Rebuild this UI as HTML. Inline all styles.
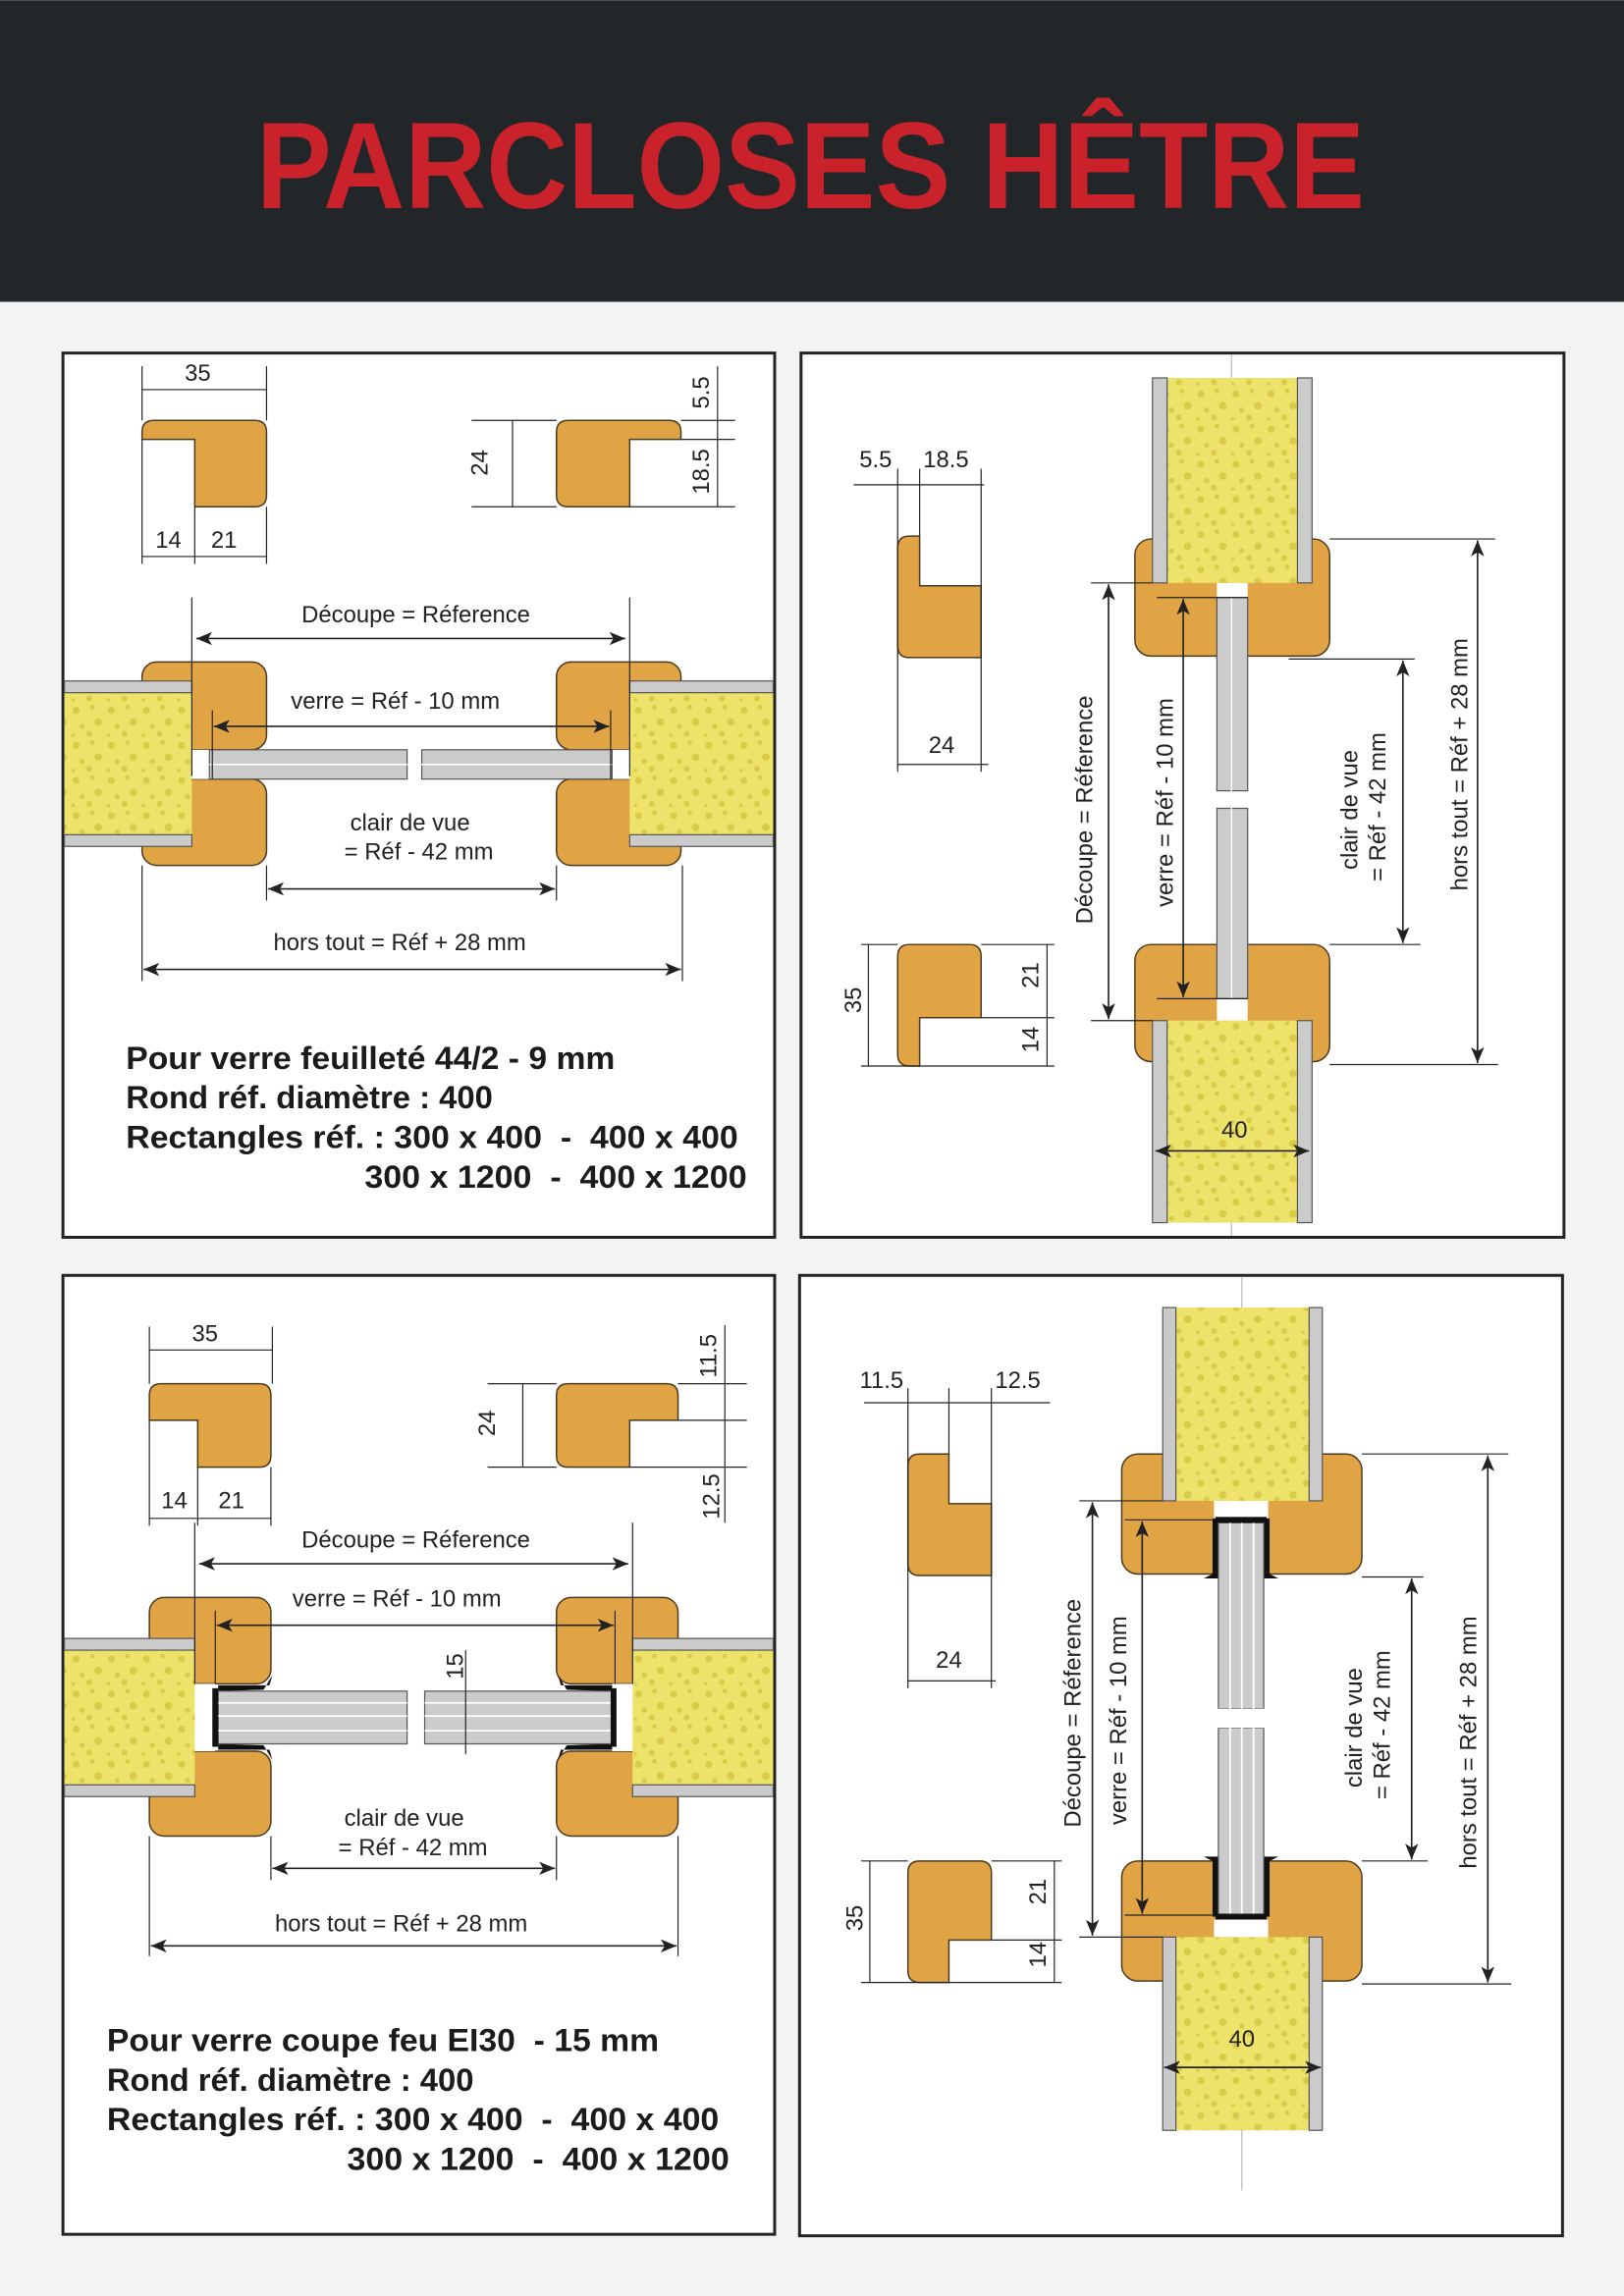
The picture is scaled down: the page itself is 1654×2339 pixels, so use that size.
<!DOCTYPE html>
<html><head><meta charset="utf-8"><style>
html,body{margin:0;padding:0;background:#f3f3f3}
svg{display:block}
text{font-family:"Liberation Sans",Arial,sans-serif;fill:#222}
.l{font-size:16px}
.b{font-size:22px;font-weight:bold;fill:#1b1b1b;white-space:pre}
.w{fill:#E1A445;stroke:#4a3a20;stroke-width:1}
.g{fill:#cbcbcb;stroke:#555;stroke-width:.8}
.f{fill:url(#foam)}
.d{stroke:#222;stroke-width:1.1;fill:none}
.e{stroke:#222;stroke-width:.8;fill:none}
.c{stroke:#bbb;stroke-width:.8}
</style></head><body>
<svg width="1654" height="2339" viewBox="0 0 1109 1568" xmlns="http://www.w3.org/2000/svg">
<defs>
<pattern id="foam" width="24" height="24" patternUnits="userSpaceOnUse">
<rect width="24" height="24" fill="#eee36a"/>
<circle cx="4" cy="5" r="2.4" fill="#d8cb47"/><circle cx="15" cy="3" r="1.6" fill="#d8cb47"/>
<circle cx="19" cy="13" r="2.6" fill="#d8cb47"/><circle cx="8" cy="16" r="1.8" fill="#d8cb47"/>
<circle cx="13" cy="21" r="2" fill="#d8cb47"/><circle cx="2" cy="22" r="1.2" fill="#d8cb47"/>
</pattern>
<marker id="a" viewBox="0 0 12 10" refX="12" refY="5" markerWidth="14" markerHeight="9" markerUnits="userSpaceOnUse" orient="auto-start-reverse"><path d="M0,0 L12,5 L0,10 L3,5z" fill="#222"/></marker>
</defs>
<rect width="1109" height="1568" fill="#f3f3f3"/>
<rect width="1109" height="206" fill="#232628"/>
<text x="175" y="142" font-size="84" font-weight="bold" style="fill:#c9222a" textLength="757" lengthAdjust="spacingAndGlyphs">PARCLOSES HÊTRE</text>

<rect x="43" y="241" width="486" height="604" fill="#fff" stroke="#222" stroke-width="2"/>
<rect x="547" y="241" width="521" height="604" fill="#fff" stroke="#222" stroke-width="2"/>
<rect x="43" y="871" width="486" height="655" fill="#fff" stroke="#222" stroke-width="2"/>
<rect x="546" y="871" width="521" height="656" fill="#fff" stroke="#222" stroke-width="2"/>

<!-- PANEL 1 -->
<path class="w" d="M97,295 q0,-8 8,-8 L174,287 q8,0 8,8 L182,338 q0,8 -8,8 L133,346 L133,300 L97,300 Z"/>
<line class="e" x1="97" y1="250" x2="97" y2="287"/><line class="e" x1="182" y1="250" x2="182" y2="287"/>
<line class="e" x1="97" y1="266" x2="182" y2="266"/>
<text class="l" x="135" y="260" text-anchor="middle">35</text>
<line class="e" x1="97" y1="300" x2="97" y2="385"/><line class="e" x1="133" y1="346" x2="133" y2="385"/><line class="e" x1="182" y1="346" x2="182" y2="385"/>
<line class="e" x1="97" y1="380" x2="182" y2="380"/>
<text class="l" x="115" y="374" text-anchor="middle">14</text><text class="l" x="153" y="374" text-anchor="middle">21</text>

<path class="w" d="M380,295 q0,-8 8,-8 L457,287 q8,0 8,8 L465,300 L430,300 L430,346 L388,346 q-8,0 -8,-8 Z"/>
<line class="e" x1="322" y1="287" x2="380" y2="287"/><line class="e" x1="322" y1="346" x2="380" y2="346"/>
<line class="e" x1="350" y1="287" x2="350" y2="346"/>
<text class="l" transform="rotate(-90 333 316)" x="333" y="316" text-anchor="middle">24</text>
<line class="e" x1="465" y1="287" x2="502" y2="287"/><line class="e" x1="465" y1="300" x2="502" y2="300"/><line class="e" x1="430" y1="346" x2="502" y2="346"/>
<line class="e" x1="490" y1="250" x2="490" y2="346"/>
<text class="l" transform="rotate(-90 484 268)" x="484" y="268" text-anchor="middle">5.5</text>
<text class="l" transform="rotate(-90 484 322)" x="484" y="322" text-anchor="middle">18.5</text>

<rect class="w" x="97" y="452" width="85" height="60" rx="10"/>
<rect class="w" x="97" y="532" width="85" height="59" rx="10"/>
<rect class="w" x="380" y="452" width="85" height="60" rx="10"/>
<rect class="w" x="380" y="532" width="85" height="59" rx="10"/>
<rect x="131" y="512" width="12" height="20" fill="#fff"/><rect x="418" y="512" width="12" height="20" fill="#fff"/>
<rect class="f" x="44" y="465" width="87" height="113"/>
<rect class="g" x="44" y="465" width="87" height="8"/><rect class="g" x="44" y="570" width="87" height="8"/>
<rect class="f" x="430" y="465" width="98" height="113"/>
<rect class="g" x="430" y="465" width="98" height="8"/><rect class="g" x="430" y="570" width="98" height="8"/>
<rect class="g" x="143" y="512" width="135" height="20"/><rect class="g" x="288" y="512" width="130" height="20"/>
<line x1="143" y1="522" x2="418" y2="522" stroke="#fff" stroke-width="1"/>
<line class="e" x1="131" y1="408" x2="131" y2="530"/><line class="e" x1="430" y1="408" x2="430" y2="530"/>
<line class="d" x1="134" y1="436" x2="427" y2="436" marker-start="url(#a)" marker-end="url(#a)"/>
<text class="l" x="284" y="425" text-anchor="middle">Découpe = Réference</text>
<line class="e" x1="145" y1="485" x2="145" y2="532"/><line class="e" x1="417" y1="485" x2="417" y2="532"/>
<line class="d" x1="146" y1="496" x2="416" y2="496" marker-start="url(#a)" marker-end="url(#a)"/>
<text class="l" x="270" y="484" text-anchor="middle">verre = Réf - 10 mm</text>
<line class="e" x1="182" y1="591" x2="182" y2="615"/><line class="e" x1="380" y1="591" x2="380" y2="615"/>
<line class="d" x1="183" y1="607" x2="379" y2="607" marker-start="url(#a)" marker-end="url(#a)"/>
<text class="l" x="280" y="567" text-anchor="middle">clair de vue</text>
<text class="l" x="286" y="587" text-anchor="middle">= Réf - 42 mm</text>
<line class="e" x1="97" y1="591" x2="97" y2="670"/><line class="e" x1="466" y1="591" x2="466" y2="670"/>
<line class="d" x1="98" y1="662" x2="465" y2="662" marker-start="url(#a)" marker-end="url(#a)"/>
<text class="l" x="273" y="649" text-anchor="middle">hors tout = Réf + 28 mm</text>
<text class="b" x="86" y="730" textLength="334" lengthAdjust="spacingAndGlyphs">Pour verre feuilleté 44/2 - 9 mm</text>
<text class="b" x="86" y="757">Rond réf. diamètre : 400</text>
<text class="b" x="86" y="784" textLength="418" lengthAdjust="spacingAndGlyphs">Rectangles réf. : 300 x 400  -  400 x 400</text>
<text class="b" x="249" y="811" textLength="261" lengthAdjust="spacingAndGlyphs">300 x 1200  -  400 x 1200</text>

<!-- PANEL 2 -->
<path class="w" d="M613,374 q0,-8 8,-8 L628,366 L628,400 L670,400 L670,449 L621,449 q-8,0 -8,-8 Z"/>
<line class="e" x1="583" y1="331" x2="672" y2="331"/>
<line class="e" x1="613" y1="320" x2="613" y2="527"/><line class="e" x1="628" y1="320" x2="628" y2="366"/><line class="e" x1="670" y1="320" x2="670" y2="527"/>
<line class="e" x1="613" y1="522" x2="675" y2="522"/>
<text class="l" x="598" y="319" text-anchor="middle">5.5</text><text class="l" x="646" y="319" text-anchor="middle">18.5</text>
<text class="l" x="643" y="514" text-anchor="middle">24</text>
<path class="w" d="M613,653 q0,-8 8,-8 L662,645 q8,0 8,8 L670,695 L628,695 L628,728 L621,728 q-8,0 -8,-8 Z"/>
<line class="e" x1="588" y1="645" x2="613" y2="645"/><line class="e" x1="588" y1="728" x2="720" y2="728"/>
<line class="e" x1="593" y1="645" x2="593" y2="728"/>
<line class="e" x1="670" y1="645" x2="720" y2="645"/><line class="e" x1="670" y1="695" x2="720" y2="695"/>
<line class="e" x1="715" y1="645" x2="715" y2="728"/>
<text class="l" transform="rotate(-90 588 683)" x="588" y="683" text-anchor="middle">35</text>
<text class="l" transform="rotate(-90 709 666)" x="709" y="666" text-anchor="middle">21</text>
<text class="l" transform="rotate(-90 709 710)" x="709" y="710" text-anchor="middle">14</text>

<line class="c" x1="841" y1="242" x2="841" y2="844"/>
<rect class="w" x="775" y="368" width="133" height="80" rx="11"/>
<rect class="w" x="775" y="645" width="133" height="80" rx="11"/>
<rect x="831" y="398" width="21" height="10" fill="#fff"/><rect x="831" y="682" width="21" height="15" fill="#fff"/>
<rect class="f" x="787" y="258" width="109" height="140"/>
<rect class="g" x="787" y="258" width="10" height="140"/><rect class="g" x="886" y="258" width="10" height="140"/>
<rect class="f" x="787" y="697" width="109" height="138"/>
<rect class="g" x="787" y="697" width="10" height="138"/><rect class="g" x="886" y="697" width="10" height="138"/>
<rect class="g" x="831" y="408" width="21" height="132"/><rect class="g" x="831" y="552" width="21" height="130"/>
<line x1="841" y1="408" x2="841" y2="682" stroke="#fff"/>
<line class="e" x1="745" y1="398" x2="787" y2="398"/><line class="e" x1="745" y1="697" x2="787" y2="697"/>
<line class="d" x1="757" y1="399" x2="757" y2="696" marker-start="url(#a)" marker-end="url(#a)"/>
<text class="l" transform="rotate(-90 746 553)" x="746" y="553" text-anchor="middle">Découpe = Réference</text>
<line class="e" x1="790" y1="408" x2="852" y2="408"/><line class="e" x1="790" y1="682" x2="852" y2="682"/>
<line class="d" x1="808" y1="409" x2="808" y2="681" marker-start="url(#a)" marker-end="url(#a)"/>
<text class="l" transform="rotate(-90 801 548)" x="801" y="548" text-anchor="middle">verre = Réf - 10 mm</text>
<line class="e" x1="880" y1="450" x2="966" y2="450"/><line class="e" x1="908" y1="645" x2="970" y2="645"/>
<line class="d" x1="958" y1="451" x2="958" y2="644" marker-start="url(#a)" marker-end="url(#a)"/>
<text class="l" transform="rotate(-90 927 553)" x="927" y="553" text-anchor="middle">clair de vue</text>
<text class="l" transform="rotate(-90 946 551)" x="946" y="551" text-anchor="middle">= Réf - 42 mm</text>
<line class="e" x1="908" y1="368" x2="1021" y2="368"/><line class="e" x1="908" y1="727" x2="1023" y2="727"/>
<line class="d" x1="1009" y1="369" x2="1009" y2="726" marker-start="url(#a)" marker-end="url(#a)"/>
<text class="l" transform="rotate(-90 1002 522)" x="1002" y="522" text-anchor="middle">hors tout = Réf + 28 mm</text>
<line class="d" x1="789" y1="786" x2="894" y2="786" marker-start="url(#a)" marker-end="url(#a)"/>
<text class="l" x="843" y="777" text-anchor="middle">40</text>

<!-- PANEL 3 -->
<path class="w" d="M102,953 q0,-8 8,-8 L177,945 q8,0 8,8 L185,994 q0,8 -8,8 L135,1002 L135,970 L102,970 Z"/>
<line class="e" x1="102" y1="906" x2="102" y2="945"/><line class="e" x1="186" y1="906" x2="186" y2="945"/>
<line class="e" x1="102" y1="922" x2="186" y2="922"/>
<text class="l" x="140" y="916" text-anchor="middle">35</text>
<line class="e" x1="102" y1="970" x2="102" y2="1042"/><line class="e" x1="135" y1="1002" x2="135" y2="1042"/><line class="e" x1="185" y1="1002" x2="185" y2="1042"/>
<line class="e" x1="102" y1="1037" x2="185" y2="1037"/>
<text class="l" x="119" y="1030" text-anchor="middle">14</text><text class="l" x="158" y="1030" text-anchor="middle">21</text>
<path class="w" d="M380,953 q0,-8 8,-8 L455,945 q8,0 8,8 L463,970 L430,970 L430,1002 L388,1002 q-8,0 -8,-8 Z"/>
<line class="e" x1="333" y1="945" x2="380" y2="945"/><line class="e" x1="333" y1="1002" x2="380" y2="1002"/>
<line class="e" x1="357" y1="945" x2="357" y2="1002"/>
<text class="l" transform="rotate(-90 338 972)" x="338" y="972" text-anchor="middle">24</text>
<line class="e" x1="463" y1="945" x2="510" y2="945"/><line class="e" x1="463" y1="970" x2="510" y2="970"/><line class="e" x1="430" y1="1002" x2="510" y2="1002"/>
<line class="e" x1="495" y1="905" x2="495" y2="1040"/>
<text class="l" transform="rotate(-90 489 926)" x="489" y="926" text-anchor="middle">11.5</text>
<text class="l" transform="rotate(-90 491 1022)" x="491" y="1022" text-anchor="middle">12.5</text>

<rect class="w" x="102" y="1091" width="83" height="59" rx="10"/>
<rect class="w" x="102" y="1196" width="83" height="58" rx="10"/>
<rect class="w" x="380" y="1091" width="83" height="59" rx="10"/>
<rect class="w" x="380" y="1196" width="83" height="58" rx="10"/>
<rect x="133" y="1150" width="14" height="46" fill="#fff"/><rect x="418" y="1150" width="14" height="46" fill="#fff"/>
<rect class="f" x="44" y="1119" width="89" height="108"/>
<rect class="g" x="44" y="1119" width="89" height="8"/><rect class="g" x="44" y="1219" width="89" height="8"/>
<rect class="f" x="432" y="1119" width="96" height="108"/>
<rect class="g" x="432" y="1119" width="96" height="8"/><rect class="g" x="432" y="1219" width="96" height="8"/>
<path d="M149,1151 L184,1151 L186,1144 L180,1154 L149,1155Z M149,1195 L184,1195 L186,1202 L180,1192 L149,1191Z" fill="#111"/>
<path d="M418,1151 L383,1151 L381,1144 L387,1154 L418,1155Z M418,1195 L383,1195 L381,1202 L387,1192 L418,1191Z" fill="#111"/>
<rect class="g" x="149" y="1155" width="129" height="36"/><rect class="g" x="290" y="1155" width="128" height="36"/>
<g stroke="#fff" stroke-width="1.2"><line x1="149" y1="1163" x2="278" y2="1163"/><line x1="149" y1="1172" x2="278" y2="1172"/><line x1="149" y1="1182" x2="278" y2="1182"/>
<line x1="290" y1="1163" x2="418" y2="1163"/><line x1="290" y1="1172" x2="418" y2="1172"/><line x1="290" y1="1182" x2="418" y2="1182"/></g>
<rect x="145" y="1153" width="4" height="40" fill="#111"/><rect x="417" y="1153" width="4" height="40" fill="#111"/>
<line class="e" x1="318" y1="1127" x2="318" y2="1198"/>
<text class="l" transform="rotate(-90 316 1138)" x="316" y="1138" text-anchor="middle">15</text>
<line class="e" x1="133" y1="1040" x2="133" y2="1150"/><line class="e" x1="432" y1="1040" x2="432" y2="1150"/>
<line class="d" x1="136" y1="1068" x2="429" y2="1068" marker-start="url(#a)" marker-end="url(#a)"/>
<text class="l" x="284" y="1057" text-anchor="middle">Découpe = Réference</text>
<line class="e" x1="147" y1="1100" x2="147" y2="1150"/><line class="e" x1="420" y1="1100" x2="420" y2="1150"/>
<line class="d" x1="148" y1="1110" x2="419" y2="1110" marker-start="url(#a)" marker-end="url(#a)"/>
<text class="l" x="271" y="1097" text-anchor="middle">verre = Réf - 10 mm</text>
<line class="e" x1="185" y1="1254" x2="185" y2="1284"/><line class="e" x1="380" y1="1254" x2="380" y2="1284"/>
<line class="d" x1="186" y1="1276" x2="379" y2="1276" marker-start="url(#a)" marker-end="url(#a)"/>
<text class="l" x="276" y="1247" text-anchor="middle">clair de vue</text>
<text class="l" x="282" y="1267" text-anchor="middle">= Réf - 42 mm</text>
<line class="e" x1="102" y1="1254" x2="102" y2="1336"/><line class="e" x1="463" y1="1254" x2="463" y2="1336"/>
<line class="d" x1="103" y1="1329" x2="462" y2="1329" marker-start="url(#a)" marker-end="url(#a)"/>
<text class="l" x="274" y="1319" text-anchor="middle">hors tout = Réf + 28 mm</text>
<text class="b" x="73" y="1401" textLength="377" lengthAdjust="spacingAndGlyphs">Pour verre coupe feu EI30  - 15 mm</text>
<text class="b" x="73" y="1428">Rond réf. diamètre : 400</text>
<text class="b" x="73" y="1455" textLength="418" lengthAdjust="spacingAndGlyphs">Rectangles réf. : 300 x 400  -  400 x 400</text>
<text class="b" x="237" y="1482" textLength="261" lengthAdjust="spacingAndGlyphs">300 x 1200  -  400 x 1200</text>

<!-- PANEL 4 -->
<path class="w" d="M620,1001 q0,-8 8,-8 L648,993 L648,1027 L677,1027 L677,1076 L628,1076 q-8,0 -8,-8 Z"/>
<line class="e" x1="590" y1="958" x2="717" y2="958"/>
<line class="e" x1="620" y1="948" x2="620" y2="1153"/><line class="e" x1="648" y1="948" x2="648" y2="993"/><line class="e" x1="677" y1="948" x2="677" y2="1153"/>
<line class="e" x1="620" y1="1148" x2="680" y2="1148"/>
<text class="l" x="602" y="948" text-anchor="middle">11.5</text><text class="l" x="695" y="948" text-anchor="middle">12.5</text>
<text class="l" x="648" y="1139" text-anchor="middle">24</text>
<path class="w" d="M620,1279 q0,-8 8,-8 L669,1271 q8,0 8,8 L677,1325 L648,1325 L648,1354 L628,1354 q-8,0 -8,-8 Z"/>
<line class="e" x1="588" y1="1271" x2="620" y2="1271"/><line class="e" x1="588" y1="1354" x2="725" y2="1354"/>
<line class="e" x1="594" y1="1271" x2="594" y2="1354"/>
<line class="e" x1="677" y1="1271" x2="725" y2="1271"/><line class="e" x1="677" y1="1325" x2="725" y2="1325"/>
<line class="e" x1="720" y1="1271" x2="720" y2="1354"/>
<text class="l" transform="rotate(-90 589 1310)" x="589" y="1310" text-anchor="middle">35</text>
<text class="l" transform="rotate(-90 714 1292)" x="714" y="1292" text-anchor="middle">21</text>
<text class="l" transform="rotate(-90 714 1335)" x="714" y="1335" text-anchor="middle">14</text>

<line class="c" x1="848" y1="872" x2="848" y2="1496"/>
<rect class="w" x="766" y="993" width="164" height="82" rx="11"/>
<rect class="w" x="766" y="1271" width="164" height="82" rx="11"/>
<rect x="829" y="1025" width="37" height="12" fill="#fff"/><rect x="829" y="1311" width="37" height="12" fill="#fff"/>
<rect class="f" x="794" y="893" width="109" height="132"/>
<rect class="g" x="794" y="893" width="9" height="132"/><rect class="g" x="894" y="893" width="9" height="132"/>
<rect class="f" x="794" y="1323" width="109" height="132"/>
<rect class="g" x="794" y="1323" width="9" height="132"/><rect class="g" x="894" y="1323" width="9" height="132"/>
<path d="M828,1037 L828,1075 L822,1078 L832,1078 L832,1037Z M867,1037 L867,1075 L873,1078 L863,1078 L863,1037Z M828,1309 L828,1271 L822,1268 L832,1268 L832,1309Z M867,1309 L867,1271 L873,1268 L863,1268 L863,1309Z" fill="#111"/>
<rect class="g" x="832" y="1040" width="31" height="127"/><rect class="g" x="832" y="1180" width="31" height="128"/>
<g stroke="#fff" stroke-width="1.2"><line x1="840" y1="1040" x2="840" y2="1308"/><line x1="848" y1="1040" x2="848" y2="1308"/><line x1="856" y1="1040" x2="856" y2="1308"/></g>
<rect x="830" y="1036" width="35" height="4" fill="#111"/><rect x="830" y="1307" width="35" height="4" fill="#111"/>
<rect x="829" y="1167" width="37" height="13" fill="#fff"/>
<line class="e" x1="737" y1="1025" x2="794" y2="1025"/><line class="e" x1="737" y1="1323" x2="794" y2="1323"/>
<line class="d" x1="746" y1="1026" x2="746" y2="1322" marker-start="url(#a)" marker-end="url(#a)"/>
<text class="l" transform="rotate(-90 738 1170)" x="738" y="1170" text-anchor="middle">Découpe = Réference</text>
<line class="e" x1="768" y1="1038" x2="829" y2="1038"/><line class="e" x1="768" y1="1308" x2="829" y2="1308"/>
<line class="d" x1="780" y1="1039" x2="780" y2="1307" marker-start="url(#a)" marker-end="url(#a)"/>
<text class="l" transform="rotate(-90 769 1175)" x="769" y="1175" text-anchor="middle">verre = Réf - 10 mm</text>
<line class="e" x1="930" y1="1077" x2="972" y2="1077"/><line class="e" x1="930" y1="1271" x2="975" y2="1271"/>
<line class="d" x1="964" y1="1078" x2="964" y2="1270" marker-start="url(#a)" marker-end="url(#a)"/>
<text class="l" transform="rotate(-90 930 1180)" x="930" y="1180" text-anchor="middle">clair de vue</text>
<text class="l" transform="rotate(-90 949 1178)" x="949" y="1178" text-anchor="middle">= Réf - 42 mm</text>
<line class="e" x1="930" y1="993" x2="1030" y2="993"/><line class="e" x1="930" y1="1355" x2="1032" y2="1355"/>
<line class="d" x1="1016" y1="994" x2="1016" y2="1354" marker-start="url(#a)" marker-end="url(#a)"/>
<text class="l" transform="rotate(-90 1008 1190)" x="1008" y="1190" text-anchor="middle">hors tout = Réf + 28 mm</text>
<line class="d" x1="795" y1="1412" x2="902" y2="1412" marker-start="url(#a)" marker-end="url(#a)"/>
<text class="l" x="848" y="1398" text-anchor="middle">40</text>
</svg>
</body></html>
